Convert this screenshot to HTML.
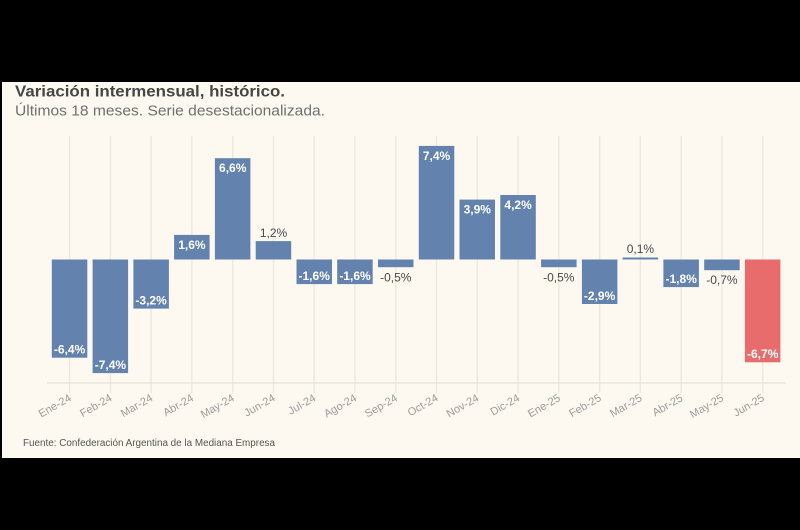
<!DOCTYPE html>
<html>
<head>
<meta charset="utf-8">
<style>
  html, body { margin:0; padding:0; background:#000; }
  body { width:800px; height:530px; overflow:hidden; position:relative; }
  svg { position:absolute; left:0; top:0; }
</style>
</head>
<body>
<svg width="800" height="530" viewBox="0 0 800 530" xmlns="http://www.w3.org/2000/svg" font-family="'Liberation Sans', sans-serif">
  <rect x="0" y="0" width="800" height="530" fill="#000"/>
  <rect x="2" y="82" width="798" height="376" fill="#fdf9f0"/>

  <!-- title -->
  <text x="15" y="96.5" font-size="15.5" font-weight="bold" fill="#464646" textLength="270" lengthAdjust="spacingAndGlyphs">Variación intermensual, histórico.</text>
  <text x="15" y="115.5" font-size="14.5" fill="#707070" textLength="310" lengthAdjust="spacingAndGlyphs">Últimos 18 meses. Serie desestacionalizada.</text>

  <!-- gridlines -->
  <g stroke="#eee9df" stroke-width="1.5">
    <line x1="69.6" y1="136" x2="69.6" y2="393"/>
    <line x1="110.4" y1="136" x2="110.4" y2="393"/>
    <line x1="151.1" y1="136" x2="151.1" y2="393"/>
    <line x1="191.9" y1="136" x2="191.9" y2="393"/>
    <line x1="232.7" y1="136" x2="232.7" y2="393"/>
    <line x1="273.5" y1="136" x2="273.5" y2="393"/>
    <line x1="314.2" y1="136" x2="314.2" y2="393"/>
    <line x1="355.0" y1="136" x2="355.0" y2="393"/>
    <line x1="395.8" y1="136" x2="395.8" y2="393"/>
    <line x1="436.5" y1="136" x2="436.5" y2="393"/>
    <line x1="477.3" y1="136" x2="477.3" y2="393"/>
    <line x1="518.1" y1="136" x2="518.1" y2="393"/>
    <line x1="558.8" y1="136" x2="558.8" y2="393"/>
    <line x1="599.6" y1="136" x2="599.6" y2="393"/>
    <line x1="640.4" y1="136" x2="640.4" y2="393"/>
    <line x1="681.2" y1="136" x2="681.2" y2="393"/>
    <line x1="721.9" y1="136" x2="721.9" y2="393"/>
    <line x1="762.7" y1="136" x2="762.7" y2="393"/>
  </g>
  <line x1="47" y1="383" x2="786" y2="383" stroke="#e8e3d9" stroke-width="1.2"/>

  <!-- bars: zero=259.5, scale 15.35 px per % -->
  <g fill="#6382ad">
    <rect x="51.8" y="259.5" width="35.5" height="98.2"/>
    <rect x="92.6" y="259.5" width="35.5" height="113.6"/>
    <rect x="133.4" y="259.5" width="35.5" height="49.1"/>
    <rect x="174.1" y="234.9" width="35.5" height="24.6"/>
    <rect x="214.9" y="158.2" width="35.5" height="101.3"/>
    <rect x="255.7" y="241.1" width="35.5" height="18.4"/>
    <rect x="296.5" y="259.5" width="35.5" height="24.6"/>
    <rect x="337.2" y="259.5" width="35.5" height="24.6"/>
    <rect x="378.0" y="259.5" width="35.5" height="7.7"/>
    <rect x="418.8" y="145.9" width="35.5" height="113.6"/>
    <rect x="459.5" y="199.6" width="35.5" height="59.9"/>
    <rect x="500.3" y="195.0" width="35.5" height="64.5"/>
    <rect x="541.1" y="259.5" width="35.5" height="7.7"/>
    <rect x="581.9" y="259.5" width="35.5" height="44.5"/>
    <rect x="622.6" y="257.5" width="35.5" height="2"/>
    <rect x="663.4" y="259.5" width="35.5" height="27.6"/>
    <rect x="704.2" y="259.5" width="35.5" height="10.7"/>
  </g>
  <rect x="744.9" y="259.5" width="35.5" height="102.8" fill="#e86c6c"/>

  <!-- value labels -->
  <g font-size="12" text-anchor="middle" font-weight="bold" fill="#ffffff">
    <text x="69.6" y="353.7">-6,4%</text>
    <text x="110.4" y="369">-7,4%</text>
    <text x="151.1" y="304.6">-3,2%</text>
    <text x="191.9" y="248.9">1,6%</text>
    <text x="232.7" y="172.2">6,6%</text>
    <text x="314.2" y="280">-1,6%</text>
    <text x="355.0" y="280">-1,6%</text>
    <text x="436.5" y="159.9">7,4%</text>
    <text x="477.3" y="213.6">3,9%</text>
    <text x="518.1" y="209">4,2%</text>
    <text x="599.6" y="300">-2,9%</text>
    <text x="681.2" y="283">-1,8%</text>
    <text x="762.7" y="358">-6,7%</text>
  </g>
  <g font-size="12" text-anchor="middle" fill="#4a4a4a">
    <text x="273.5" y="237">1,2%</text>
    <text x="395.8" y="281.5">-0,5%</text>
    <text x="558.8" y="281.5">-0,5%</text>
    <text x="640.4" y="253">0,1%</text>
    <text x="721.9" y="284">-0,7%</text>
  </g>

  <!-- x labels -->
  <g font-size="11" text-anchor="end" fill="#9c9c9c">
    <text transform="translate(72,400) rotate(-30)">Ene-24</text>
    <text transform="translate(112.8,400) rotate(-30)">Feb-24</text>
    <text transform="translate(153.5,400) rotate(-30)">Mar-24</text>
    <text transform="translate(194.3,400) rotate(-30)">Abr-24</text>
    <text transform="translate(235.1,400) rotate(-30)">May-24</text>
    <text transform="translate(275.9,400) rotate(-30)">Jun-24</text>
    <text transform="translate(316.6,400) rotate(-30)">Jul-24</text>
    <text transform="translate(357.4,400) rotate(-30)">Ago-24</text>
    <text transform="translate(398.2,400) rotate(-30)">Sep-24</text>
    <text transform="translate(438.9,400) rotate(-30)">Oct-24</text>
    <text transform="translate(479.7,400) rotate(-30)">Nov-24</text>
    <text transform="translate(520.5,400) rotate(-30)">Dic-24</text>
    <text transform="translate(561.2,400) rotate(-30)">Ene-25</text>
    <text transform="translate(602,400) rotate(-30)">Feb-25</text>
    <text transform="translate(642.8,400) rotate(-30)">Mar-25</text>
    <text transform="translate(683.6,400) rotate(-30)">Abr-25</text>
    <text transform="translate(724.3,400) rotate(-30)">May-25</text>
    <text transform="translate(765.1,400) rotate(-30)">Jun-25</text>
  </g>

  <!-- source -->
  <text x="23" y="446" font-size="10" fill="#555555" textLength="252" lengthAdjust="spacingAndGlyphs">Fuente: Confederación Argentina de la Mediana Empresa</text>
</svg>
</body>
</html>
